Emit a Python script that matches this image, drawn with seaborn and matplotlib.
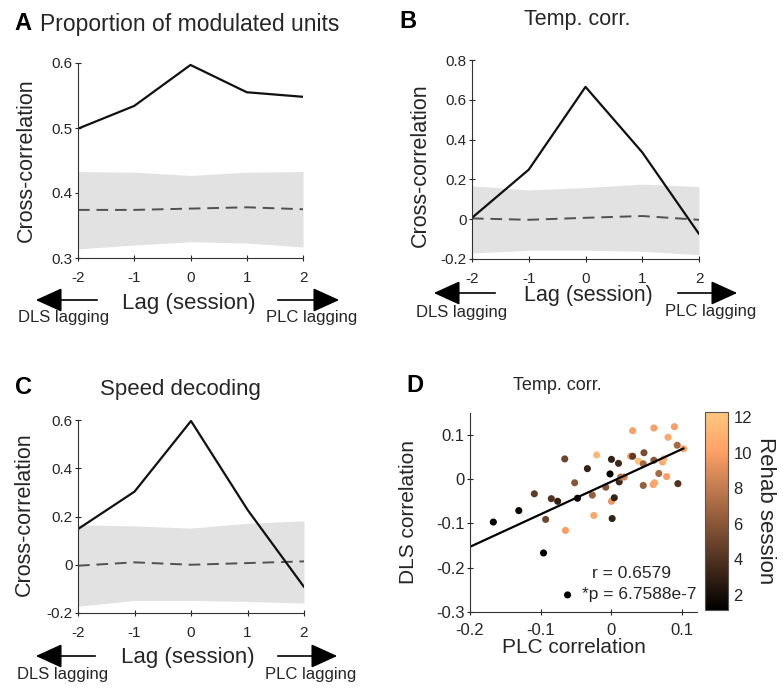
import numpy as np
import pandas as pd
import matplotlib
matplotlib.use('Agg')
import matplotlib.pyplot as plt
import seaborn as sns
from matplotlib.ticker import FuncFormatter

# Lag axis shared by the three cross-correlation panels
lags = [-2, -1, 0, 1, 2]

# Panel A: proportion of modulated units
a_real = [0.499, 0.534, 0.597, 0.555, 0.548]
a_shuf = [0.374, 0.374, 0.376, 0.378, 0.375]
a_hi = [0.433, 0.432, 0.427, 0.432, 0.433]
a_lo = [0.314, 0.320, 0.325, 0.323, 0.317]

# Panel B: temporal correlation
b_real = [0.007, 0.249, 0.665, 0.336, -0.074]
b_shuf = [0.004, -0.003, 0.007, 0.016, -0.003]
b_hi = [0.168, 0.147, 0.159, 0.176, 0.164]
b_lo = [-0.170, -0.156, -0.156, -0.161, -0.178]

# Panel C: speed decoding
c_real = [0.148, 0.303, 0.596, 0.228, -0.092]
c_shuf = [-0.004, 0.010, 0.000, 0.007, 0.014]
c_hi = [0.166, 0.161, 0.152, 0.172, 0.182]
c_lo = [-0.172, -0.148, -0.148, -0.152, -0.159]

# Panel D: PLC vs DLS temporal correlation, coloured by rehab session
plc = [-0.167, -0.131, -0.109, -0.093, -0.096, -0.085, -0.076, -0.066, -0.065, -0.062,
       -0.052, -0.048, -0.034, -0.027, -0.025, -0.021, -0.008, -0.002, 0.000, 0.000,
       0.004, 0.001, 0.010, 0.011, 0.013, 0.018, 0.027, 0.030, 0.030, 0.046,
       0.038, 0.045, 0.045, 0.060, 0.060, 0.072, 0.074, 0.067, 0.078, 0.080,
       0.089, 0.093, 0.102, 0.094, 0.059, 0.061]
dls = [-0.097, -0.071, -0.033, -0.091, -0.167, -0.044, -0.050, 0.046, -0.116, -0.262,
       -0.008, -0.043, 0.024, -0.036, -0.082, 0.055, -0.018, 0.012, 0.045, -0.050,
       -0.042, -0.089, 0.036, -0.006, 0.005, 0.005, 0.052, 0.052, 0.110, 0.060,
       0.041, 0.035, -0.014, 0.116, 0.043, 0.039, 0.046, 0.013, 0.006, 0.095,
       0.119, 0.077, 0.069, -0.010, -0.012, -0.008]
session = [1.3, 1.5, 4.5, 5, 1.2, 4, 3, 5, 10, 1.2,
           6, 1.5, 3, 6.5, 10.5, 11.5, 6, 1.3, 3, 9.5,
           3, 3, 3.5, 3.5, 7.5, 8.5, 10, 4.5, 10, 5.5,
           12, 7, 6.5, 10, 6, 10.5, 11, 7, 10, 10.5,
           10, 7, 10, 4, 10, 10.5]

W, H = 783, 688
TXT = '#262626'

sns.set_style('ticks')
plt.rcParams['font.family'] = ['Liberation Sans', 'DejaVu Sans']
plt.rcParams['axes.unicode_minus'] = False
plt.rcParams['text.color'] = TXT
plt.rcParams['axes.labelcolor'] = TXT
plt.rcParams['xtick.color'] = TXT
plt.rcParams['ytick.color'] = TXT
plt.rcParams['axes.edgecolor'] = '#333333'

fig = plt.figure(figsize=(W / 100, H / 100), dpi=100)


def box(l, t, r, b):
    return [l / W, 1 - b / H, (r - l) / W, (b - t) / H]


def ftext(x, y, s, **kw):
    fig.text(x / W, 1 - y / H, s, ha='center', va='center', **kw)


def arrow(x0, x1, y):
    fig.add_artist(matplotlib.patches.FancyArrowPatch(
        (x0 / W, 1 - y / H), (x1 / W, 1 - y / H), transform=fig.transFigure,
        arrowstyle='-|>,head_length=1.1,head_width=0.5', mutation_scale=15,
        color='black', lw=1.2))


fmt = FuncFormatter(lambda v, p: f'{v:g}')


def lag_panel(rect, real, shuf, hi, lo, ylim, yticks, ylab_x, ylab_y):
    ax = fig.add_axes(rect)
    ax.fill_between(lags, lo, hi, color='#e2e2e2', lw=0)
    df = pd.DataFrame({'lag': lags, 'real': real, 'shuf': shuf})
    sns.lineplot(data=df, x='lag', y='shuf', ax=ax, color='#505050', lw=1.4,
                 dashes=False, linestyle=(0, (6, 3.5)))
    sns.lineplot(data=df, x='lag', y='real', ax=ax, color='#111111', lw=1.6)
    ax.set_xlim(-2, 2)
    ax.set_ylim(*ylim)
    ax.set_xticks(lags)
    ax.set_yticks(yticks)
    ax.yaxis.set_major_formatter(fmt)
    ax.tick_params(labelsize=11, direction='inout', length=4, width=0.8)
    ax.tick_params(axis='x', pad=7.5)
    ax.tick_params(axis='y', pad=2)
    sns.despine(ax=ax)
    ax.set_xlabel('')
    ax.set_ylabel('Cross-correlation', fontsize=15.5, va='center')
    ax.yaxis.set_label_coords(ylab_x, ylab_y)
    return ax


# Panel A
lag_panel(box(78, 63, 303, 258), a_real, a_shuf, a_hi, a_lo,
          (0.3, 0.6), [0.3, 0.4, 0.5, 0.6], -0.231, 0.50)
ftext(23, 24, 'A', fontsize=17, fontweight='bold', color='black')
ftext(190, 25, 'Proportion of modulated units', fontsize=16.5)
ftext(189, 303, 'Lag (session)', fontsize=16)
arrow(100, 33, 300)
arrow(275, 342, 300)
ftext(64, 318, 'DLS lagging', fontsize=12)
ftext(312, 318, 'PLC lagging', fontsize=12)

# Panel B
lag_panel(box(472, 60, 699, 259), b_real, b_shuf, b_hi, b_lo,
          (-0.2, 0.8), [-0.2, 0, 0.2, 0.4, 0.6, 0.8], -0.229, 0.47)
ftext(408, 22, 'B', fontsize=17, fontweight='bold', color='black')
ftext(577, 20, 'Temp. corr.', fontsize=15.5)
ftext(588, 296, 'Lag (session)', fontsize=15.5)
arrow(498, 431, 293)
arrow(675, 740, 293)
ftext(462, 313, 'DLS lagging', fontsize=12)
ftext(711, 312, 'PLC lagging', fontsize=12)

# Panel C
lag_panel(box(78, 420, 304, 613), c_real, c_shuf, c_hi, c_lo,
          (-0.2, 0.6), [-0.2, 0, 0.2, 0.4, 0.6], -0.239, 0.51)
ftext(24, 388, 'C', fontsize=17, fontweight='bold', color='black')
ftext(180, 390, 'Speed decoding', fontsize=16)
ftext(188, 657, 'Lag (session)', fontsize=16)
arrow(98, 33, 656)
arrow(275, 340, 656)
ftext(63, 675, 'DLS lagging', fontsize=12)
ftext(311, 675, 'PLC lagging', fontsize=12)

# Panel D
axd = fig.add_axes(box(470, 413, 697, 611.7))
vmin, vmax = 1.15, 12.3
norm = plt.Normalize(vmin, vmax)
dfd = pd.DataFrame({'plc': plc, 'dls': dls, 'session': session})
sns.scatterplot(data=dfd, x='plc', y='dls', hue='session', palette='copper',
                hue_norm=norm, s=26, linewidth=0, legend=False, ax=axd)
slope, icpt = np.polyfit(plc, dls, 1)
xfit = np.array([-0.2, max(plc)])
axd.plot(xfit, slope * xfit + icpt, color='black', lw=1.6)
axd.set_xlim(-0.2, 0.121)
axd.set_ylim(-0.3, 0.15)
axd.set_xticks([-0.2, -0.1, 0, 0.1])
axd.set_yticks([-0.3, -0.2, -0.1, 0, 0.1])
axd.xaxis.set_major_formatter(fmt)
axd.yaxis.set_major_formatter(fmt)
axd.tick_params(labelsize=12, direction='inout', length=4, width=0.8)
axd.tick_params(axis='x', pad=6)
axd.tick_params(axis='y', pad=2)
sns.despine(ax=axd)
axd.set_xlabel('PLC correlation', fontsize=15, va='center')
axd.xaxis.set_label_coords(0.46, -0.178)
axd.set_ylabel('DLS correlation', fontsize=15, va='center')
axd.yaxis.set_label_coords(-0.27, 0.50)
axd.text(0.028, -0.213, 'r = 0.6579', fontsize=12.5, ha='center', va='center')
axd.text(0.040, -0.262, '*p = 6.7588e-7', fontsize=12.5, ha='center', va='center')
ftext(415, 385, 'D', fontsize=17, fontweight='bold', color='black')
ftext(557, 386, 'Temp. corr.', fontsize=13)

cax = fig.add_axes(box(705, 412, 728, 610))
sm = matplotlib.cm.ScalarMappable(norm=norm, cmap='copper')
cb = fig.colorbar(sm, cax=cax, ticks=[2, 4, 6, 8, 10, 12])
cb.ax.tick_params(labelsize=12, direction='in', length=3, width=0.8, pad=4)
cb.outline.set_edgecolor('#555555')
cb.outline.set_linewidth(0.8)
cb.set_label('Rehab session', fontsize=16, rotation=270, labelpad=17)

fig.savefig('out.png', dpi=100)
